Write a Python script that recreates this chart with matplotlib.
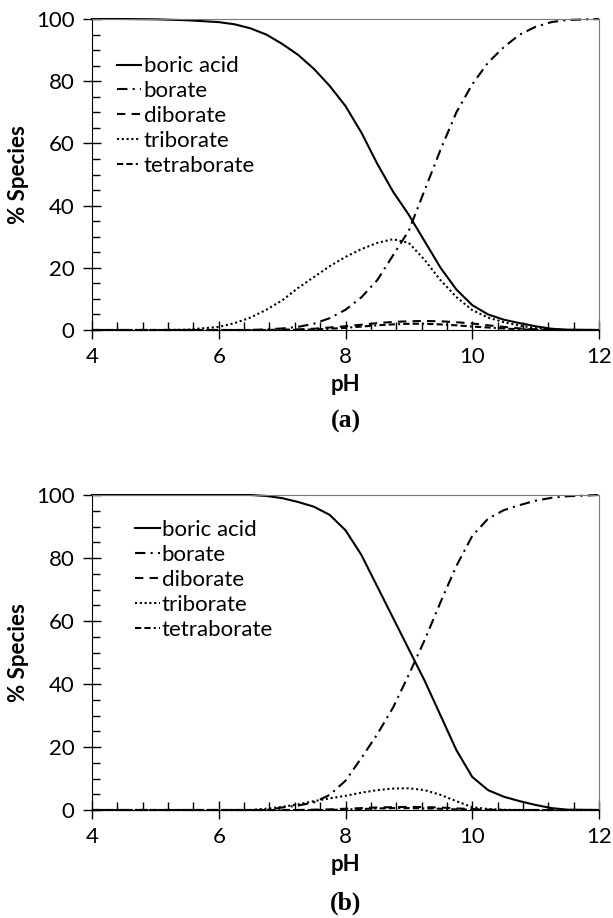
import numpy as np
import matplotlib
matplotlib.use("Agg")
import matplotlib.pyplot as plt
from matplotlib.ticker import MultipleLocator

plt.rcParams['font.family'] = ['Lato', 'DejaVu Sans']

# pH grid shared by both panels
pH = [4, 4.5, 5, 5.5, 6, 6.25, 6.5, 6.75, 7, 7.25, 7.5, 7.75, 8, 8.25, 8.5, 8.75,
      9, 9.25, 9.5, 9.75, 10, 10.25, 10.5, 10.75, 11, 11.25, 11.5, 12]

# panel (a)
boric_a = [100, 100, 99.9, 99.6, 99, 98.3, 97, 95, 92, 88.5, 84, 78.5, 72, 63.5, 53.5, 44.5,
           37, 28.5, 20, 13, 8, 5, 3.3, 2.2, 1.2, 0.4, 0.1, 0]
borate_a = [0, 0, 0, 0, 0, 0, 0, 0.2, 0.5, 1, 2, 3.8, 6.5, 10.5, 16, 24,
            32, 45, 58, 70, 79, 86, 91, 95, 97.5, 99, 99.7, 100]
diborate_a = [0, 0, 0, 0, 0, 0, 0, 0, 0.1, 0.2, 0.4, 0.8, 1.2, 1.7, 2.2, 2.6,
              2.8, 2.9, 2.8, 2.5, 2.1, 1.5, 1.0, 0.5, 0.2, 0.05, 0, 0]
triborate_a = [0, 0, 0, 0.1, 1, 2.2, 4, 6.5, 9.5, 13.5, 17, 20.5, 23.5, 26, 28, 29.2,
               28, 22.5, 16, 10.6, 6.4, 4, 2.5, 1.4, 0.6, 0.15, 0, 0]
tetraborate_a = [0, 0, 0, 0, 0, 0, 0, 0, 0, 0, 0.2, 0.4, 0.7, 1.1, 1.5, 1.8,
                 2.0, 2.0, 1.8, 1.5, 1.1, 0.8, 0.5, 0.2, 0.1, 0, 0, 0]

# panel (b)
boric_b = [100, 100, 100, 100, 100, 100, 100, 99.7, 99, 97.8, 96.3, 93.7, 88.8, 81, 71, 61,
           51, 41, 30, 19, 10.5, 6.3, 4.2, 2.8, 1.6, 0.6, 0.1, 0]
borate_b = [0, 0, 0, 0, 0, 0, 0, 0, 0.8, 1.4, 2.4, 4.8, 9.3, 16.5, 24, 32.5,
            43, 54, 66, 77.5, 87, 92.5, 95.2, 96.8, 98.2, 99.1, 99.6, 100]
diborate_b = [0, 0, 0, 0, 0, 0, 0, 0, 0, 0, 0.1, 0.2, 0.4, 0.6, 0.8, 0.9,
              1.0, 0.9, 0.8, 0.5, 0.3, 0.1, 0, 0, 0, 0, 0, 0]
triborate_b = [0, 0, 0, 0, 0, 0, 0, 0.4, 1.0, 1.8, 2.8, 3.7, 4.5, 5.5, 6.3, 6.8,
               6.9, 6.3, 4.8, 2.8, 0.9, 0.3, 0.05, 0, 0, 0, 0, 0]
tetraborate_b = [0, 0, 0, 0, 0, 0, 0, 0, 0, 0, 0, 0, 0.2, 0.3, 0.5, 0.6,
                 0.6, 0.5, 0.4, 0.2, 0.1, 0, 0, 0, 0, 0, 0, 0]

labels = ['boric acid', 'borate', 'diborate', 'triborate', 'tetraborate']
styles = ['-', (0, (5, 2.5, 1, 2.5)), (0, (4, 3)), (0, (1, 1.3)),
          (0, (3, 1.5, 3, 1.5, 1, 1.5))]

W, H = 613, 918
fig = plt.figure(figsize=(W / 100, H / 100), dpi=100)

def panel(rect, series, leg_x, leg_y, letter):
    ax = fig.add_axes(rect)
    for vals, ls, lab in zip(series, styles, labels):
        ax.plot(pH, vals, color='black', lw=1.5, linestyle=ls, label=lab, clip_on=False)
    ax.set_xlim(4, 12)
    ax.set_ylim(0, 100)
    ax.xaxis.set_major_locator(MultipleLocator(2))
    ax.xaxis.set_minor_locator(MultipleLocator(0.4))
    ax.yaxis.set_major_locator(MultipleLocator(20))
    ax.yaxis.set_minor_locator(MultipleLocator(5))
    ax.tick_params(which='major', direction='inout', length=13, width=1,
                   labelsize=16, pad=6)
    ax.tick_params(which='minor', direction='in', length=6, width=1)
    for s in ['top', 'right']:
        ax.spines[s].set_color('#777777')
    ax.set_xlabel('pH', fontsize=16, fontweight='bold', labelpad=5)
    ax.set_ylabel('% Species', fontsize=16, fontweight='bold', labelpad=5)
    ax.legend(loc='upper left', bbox_to_anchor=(leg_x, leg_y), frameon=False,
              fontsize=16, handlelength=1.1, handletextpad=0.1,
              borderpad=0, borderaxespad=0, labelspacing=0.22)
    ax.text(0.5, -0.295, letter, transform=ax.transAxes, ha='center', va='center',
            fontsize=18.5, fontweight='bold', family='Liberation Serif')
    return ax

panel([92 / W, 1 - 330 / H, 507 / W, 311 / H],
      [boric_a, borate_a, diborate_a, triborate_a, tetraborate_a], 0.049, 0.88, '(a)')
panel([92 / W, 1 - 810 / H, 507 / W, 315 / H],
      [boric_b, borate_b, diborate_b, triborate_b, tetraborate_b], 0.085, 0.92, '(b)')

fig.savefig('out.png', dpi=100)
